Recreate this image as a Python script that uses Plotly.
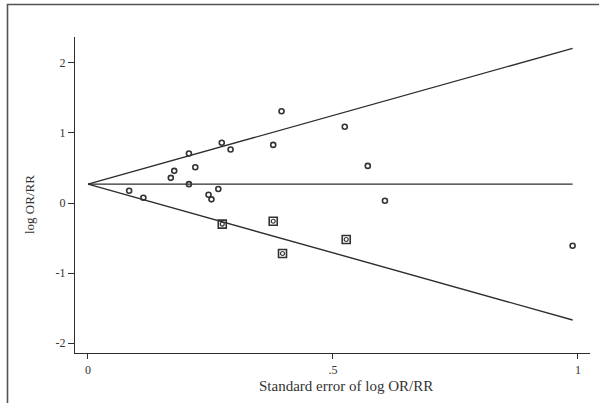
import plotly.graph_objects as go

# Study data: standard error (x) and log OR/RR (y)
se_circle = [0.084, 0.113, 0.206, 0.206, 0.176, 0.169, 0.219, 0.273, 0.291, 0.378,
             0.266, 0.246, 0.252, 0.395, 0.524, 0.571, 0.606, 0.989]
lor_circle = [0.175, 0.076, 0.708, 0.27, 0.46, 0.36, 0.51, 0.86, 0.765, 0.83,
              0.20, 0.118, 0.053, 1.31, 1.09, 0.53, 0.033, -0.61]
se_square = [0.274, 0.378, 0.527, 0.397]
lor_square = [-0.30, -0.26, -0.52, -0.72]

pooled = 0.27
z = 1.96
se_max = 0.989
x_ticks = [0, 0.5, 1]
x_ticktext = ["0", ".5", "1"]
y_ticks = [-2, -1, 0, 1, 2]
y_ticktext = ["-2", "-1", "0", "1", "2"]

W, H = 599, 403
L, R, T, B = 75, 9, 37, 50
pw, ph = W - L - R, H - T - B

def px_x(p):
    return (p - L) / pw

def px_y(p):
    return (H - B - p) / ph

line_col = "#2e2e2e"
fig = go.Figure()
# pseudo-confidence limits and pooled line
fig.add_trace(go.Scatter(x=[0, se_max], y=[pooled, pooled + z * se_max], mode="lines",
                         line=dict(color=line_col, width=1.4), hoverinfo="skip"))
fig.add_trace(go.Scatter(x=[0, se_max], y=[pooled, pooled - z * se_max], mode="lines",
                         line=dict(color=line_col, width=1.4), hoverinfo="skip"))
fig.add_trace(go.Scatter(x=[0, se_max], y=[pooled, pooled], mode="lines",
                         line=dict(color=line_col, width=1.4), hoverinfo="skip"))
fig.add_trace(go.Scatter(x=se_square, y=lor_square, mode="markers",
                         marker=dict(symbol="square-open", size=8, color="#333",
                                     line=dict(width=1.6, color="#333"))))
fig.add_trace(go.Scatter(x=se_square, y=lor_square, mode="markers",
                         marker=dict(symbol="circle-open", size=4, color="#333",
                                     line=dict(width=1.2, color="#333"))))
fig.add_trace(go.Scatter(x=se_circle, y=lor_circle, mode="markers",
                         marker=dict(symbol="circle-open", size=5, color="#333",
                                     line=dict(width=1.6, color="#333"))))

font = dict(family="Liberation Serif", size=12, color="#333")
fig.update_layout(
    width=W, height=H, margin=dict(l=L, r=R, t=T, b=B),
    paper_bgcolor="white", plot_bgcolor="white", showlegend=False,
    font=font,
    xaxis=dict(range=[-0.0265, 1.0245], tickvals=x_ticks, ticktext=x_ticktext,
               showgrid=False, zeroline=False, showline=True, linecolor=line_col,
               linewidth=1.4, ticks="outside", ticklen=5, tickcolor=line_col,
               tickfont=font),
    yaxis=dict(range=[-2.14, 2.37], tickvals=y_ticks, ticktext=y_ticktext,
               showgrid=False, zeroline=False,
               showline=True, linecolor=line_col, linewidth=1.4, ticks="outside",
               ticklen=6, tickcolor=line_col, tickfont=font),
    shapes=[dict(type="rect", xref="paper", yref="paper",
                 x0=px_x(7.5), x1=px_x(605), y0=px_y(410), y1=px_y(4.5),
                 line=dict(color="#555", width=1.6))],
    annotations=[
        dict(text="Standard error of log OR/RR", xref="paper", yref="paper",
             x=px_x(346), y=px_y(386), xanchor="center", yanchor="middle",
             showarrow=False,
             font=dict(family="Liberation Serif", size=15, color="#333")),
        dict(text="log OR/RR", xref="paper", yref="paper", x=px_x(30), y=px_y(205),
             xanchor="center", yanchor="middle",
             showarrow=False, textangle=-90,
             font=dict(family="Liberation Serif", size=13, color="#333")),
    ],
)
fig.write_html("out.html", config={"displayModeBar": False},
               post_script="document.body.style.margin='0';document.body.style.overflow='hidden';")
